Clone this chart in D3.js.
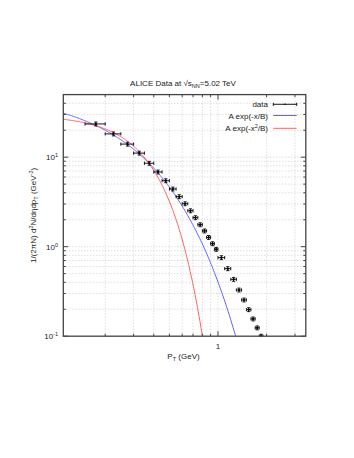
<!DOCTYPE html>
<html>
<head>
<meta charset="utf-8">
<script src="https://cdn.jsdelivr.net/npm/d3@7"></script>
<style>
  body { margin: 0; background: #fff; }
  svg text { font-family: "Liberation Sans", Arial, sans-serif; fill: #222; }
</style>
</head>
<body>
<div id="chart"></div>
<script>
// ALICE pT spectrum
const pt = [0.175, 0.225, 0.275, 0.325, 0.375, 0.425, 0.475, 0.525, 0.575, 0.625,
  0.675, 0.725, 0.775, 0.825, 0.875, 0.925, 0.975, 1.05, 1.15, 1.25, 1.35, 1.45,
  1.55, 1.65, 1.75, 1.85];
const ptHalfWidth = [0.025, 0.025, 0.025, 0.025, 0.025, 0.025, 0.025, 0.025, 0.025, 0.025,
  0.025, 0.025, 0.025, 0.025, 0.025, 0.025, 0.025, 0.05, 0.05, 0.05, 0.05, 0.05,
  0.05, 0.05, 0.05, 0.05];
const yields = [23.5, 18.2, 14.0, 11.1, 8.55, 6.83, 5.46, 4.41, 3.62, 3.02,
  2.52, 2.11, 1.76, 1.50, 1.27, 1.08, 0.935, 0.754, 0.568, 0.432, 0.328, 0.254,
  0.198, 0.156, 0.124, 0.100];
const yieldErr = yields.map((v) => v * 0.05);

// fit parameters
const expFit = { A: 53.0, B: 0.205 };   // A exp(-x/B)
const gausFit = { A: 29.5, B: 0.1125 }; // A exp(-x^2/B)

const xTicksMajor = [1];
const xTicksMinor = [0.2, 0.3, 0.4, 0.5, 0.6, 0.7, 0.8, 0.9, 2, 3];
const yTicksMajor = [0.1, 1, 10];
const yTickLabels = ["-1", "0", "1"];
const yTicksMinor = [0.2, 0.3, 0.4, 0.5, 0.6, 0.7, 0.8, 0.9, 2, 3, 4, 5, 6, 7, 8, 9, 20, 30, 40];

const W = 354, H = 458;
const pLeft = 63.3, pRight = 305.8, pTop = 94.6, pBottom = 336.2;

const svg = d3.select("#chart").append("svg")
  .attr("width", W).attr("height", H);

const x = d3.scaleLog().domain([0.11, 3.5]).range([pLeft, pRight]);
const y = d3.scaleLog().domain([0.1, 50]).range([pBottom, pTop]);

// grid
const grid = svg.append("g")
  .attr("stroke", "#bbbbbb").attr("stroke-width", 0.7)
  .attr("stroke-dasharray", "1,2");
grid.selectAll(".gx").data(xTicksMajor.concat(xTicksMinor)).enter()
  .append("line")
  .attr("x1", (d) => x(d)).attr("x2", (d) => x(d))
  .attr("y1", pTop).attr("y2", pBottom);
grid.selectAll(".gy").data(yTicksMajor.concat(yTicksMinor).filter((d) => d > 0.1)).enter()
  .append("line")
  .attr("x1", pLeft).attr("x2", pRight)
  .attr("y1", (d) => y(d)).attr("y2", (d) => y(d));

// curves
svg.append("clipPath").attr("id", "plotclip")
  .append("rect").attr("x", pLeft).attr("y", pTop)
  .attr("width", pRight - pLeft).attr("height", pBottom - pTop);

const xs = d3.range(0, 301).map((i) => 0.11 * Math.pow(3.5 / 0.11, i / 300));
const line = d3.line().x((d) => x(d[0])).y((d) => y(Math.max(d[1], 1e-4)));

svg.append("path")
  .attr("clip-path", "url(#plotclip)")
  .attr("d", line(xs.map((v) => [v, expFit.A * Math.exp(-v / expFit.B)])))
  .attr("fill", "none").attr("stroke", "#6262ff").attr("stroke-width", 1);

svg.append("path")
  .attr("clip-path", "url(#plotclip)")
  .attr("d", line(xs.map((v) => [v, gausFit.A * Math.exp(-v * v / gausFit.B)])))
  .attr("fill", "none").attr("stroke", "#ff6262").attr("stroke-width", 1);

// data with error bars
const pts = pt.map((v, i) => ({ x: v, dx: ptHalfWidth[i], y: yields[i], dy: yieldErr[i] }));
const eb = svg.append("g").attr("clip-path", "url(#plotclip)")
  .attr("stroke", "#000").attr("stroke-width", 0.9);
const cap = 1.6;
pts.forEach((d) => {
  const cx = x(d.x), cy = y(d.y);
  const x0 = x(d.x - d.dx), x1 = x(d.x + d.dx);
  const y0 = y(d.y - d.dy), y1 = y(d.y + d.dy);
  eb.append("line").attr("x1", x0).attr("x2", x1).attr("y1", cy).attr("y2", cy);
  eb.append("line").attr("x1", x0).attr("x2", x0).attr("y1", cy - cap).attr("y2", cy + cap);
  eb.append("line").attr("x1", x1).attr("x2", x1).attr("y1", cy - cap).attr("y2", cy + cap);
  eb.append("line").attr("x1", cx).attr("x2", cx).attr("y1", y0).attr("y2", y1);
  eb.append("line").attr("x1", cx - cap).attr("x2", cx + cap).attr("y1", y0).attr("y2", y0);
  eb.append("line").attr("x1", cx - cap).attr("x2", cx + cap).attr("y1", y1).attr("y2", y1);
  eb.append("circle").attr("cx", cx).attr("cy", cy).attr("r", 0.8).attr("fill", "#000");
});

// frame and ticks
const frame = svg.append("g").attr("stroke", "#444").attr("stroke-width", 1);
frame.append("rect").attr("x", pLeft).attr("y", pTop)
  .attr("width", pRight - pLeft).attr("height", pBottom - pTop).attr("fill", "none")
  .attr("stroke-width", 1.3);
const tickLen = (major) => (major ? 5 : 2.5);
[[xTicksMajor, true], [xTicksMinor, false]].forEach(([arr, major]) => {
  arr.forEach((v) => {
    frame.append("line").attr("x1", x(v)).attr("x2", x(v))
      .attr("y1", pBottom).attr("y2", pBottom - tickLen(major));
    frame.append("line").attr("x1", x(v)).attr("x2", x(v))
      .attr("y1", pTop).attr("y2", pTop + tickLen(major));
  });
});
[[yTicksMajor, true], [yTicksMinor, false]].forEach(([arr, major]) => {
  arr.forEach((v) => {
    frame.append("line").attr("y1", y(v)).attr("y2", y(v))
      .attr("x1", pLeft).attr("x2", pLeft + tickLen(major));
    frame.append("line").attr("y1", y(v)).attr("y2", y(v))
      .attr("x1", pRight).attr("x2", pRight - tickLen(major));
  });
});

// tick labels
svg.selectAll(".xl").data(xTicksMajor).enter().append("text")
  .attr("x", (d) => x(d)).attr("y", 349).attr("text-anchor", "middle")
  .attr("font-size", 8).text((d) => d);

yTicksMajor.forEach((v, i) => {
  const t = svg.append("text").attr("x", 58).attr("y", y(v) + 3)
    .attr("text-anchor", "end").attr("font-size", 8);
  t.append("tspan").text("10");
  t.append("tspan").attr("dy", -3).attr("font-size", 5.5).text(yTickLabels[i]);
});

// title
const title = svg.append("text").attr("x", 183).attr("y", 86)
  .attr("text-anchor", "middle").attr("font-size", 8);
title.append("tspan").text("ALICE Data at \u221As");
title.append("tspan").attr("dy", 2).attr("font-size", 5.5).text("NN");
title.append("tspan").attr("dy", -2).text("=5.02 TeV");

// axis labels
const xl = svg.append("text").attr("x", 183.5).attr("y", 359)
  .attr("text-anchor", "middle").attr("font-size", 8);
xl.append("tspan").text("P");
xl.append("tspan").attr("dy", 2).attr("font-size", 5.5).text("T");
xl.append("tspan").attr("dy", -2).text(" (GeV)");

const yl = svg.append("text")
  .attr("transform", `translate(36,${(pTop + pBottom) / 2}) rotate(-90)`)
  .attr("text-anchor", "middle").attr("font-size", 8);
yl.append("tspan").text("1/(2\u03c0N) d");
yl.append("tspan").attr("dy", -3).attr("font-size", 5.5).text("2");
yl.append("tspan").attr("dy", 3).text("N/d\u03b7dp");
yl.append("tspan").attr("dy", 2).attr("font-size", 5.5).text("T");
yl.append("tspan").attr("dy", -2).text(" (GeV");
yl.append("tspan").attr("dy", -3).attr("font-size", 5.5).text("-2");
yl.append("tspan").attr("dy", 3).text(")");

// legend
const lx0 = 273.3, lx1 = 296.7, ltx = 268;
const leg = svg.append("g");
leg.append("text").attr("x", ltx).attr("y", 107).attr("text-anchor", "end")
  .attr("font-size", 8).text("data");
leg.append("line").attr("x1", lx0).attr("x2", lx1).attr("y1", 104.3).attr("y2", 104.3)
  .attr("stroke", "#000").attr("stroke-width", 0.9);
[lx0, lx1].forEach((v) => leg.append("line").attr("x1", v).attr("x2", v)
  .attr("y1", 104.3 - cap).attr("y2", 104.3 + cap).attr("stroke", "#000").attr("stroke-width", 0.9));
leg.append("circle").attr("cx", (lx0 + lx1) / 2).attr("cy", 104.3).attr("r", 0.8).attr("fill", "#000");

leg.append("text").attr("x", ltx).attr("y", 118.5).attr("text-anchor", "end")
  .attr("font-size", 8).text("A exp(-x/B)");
leg.append("line").attr("x1", lx0).attr("x2", lx1).attr("y1", 115.5).attr("y2", 115.5)
  .attr("stroke", "#6262ff");

const t3 = leg.append("text").attr("x", ltx).attr("y", 131.3).attr("text-anchor", "end")
  .attr("font-size", 8);
t3.append("tspan").text("A exp(-x");
t3.append("tspan").attr("dy", -3).attr("font-size", 5.5).text("2");
t3.append("tspan").attr("dy", 3).text("/B)");
leg.append("line").attr("x1", lx0).attr("x2", lx1).attr("y1", 128.3).attr("y2", 128.3)
  .attr("stroke", "#ff6262");
</script>
</body>
</html>
